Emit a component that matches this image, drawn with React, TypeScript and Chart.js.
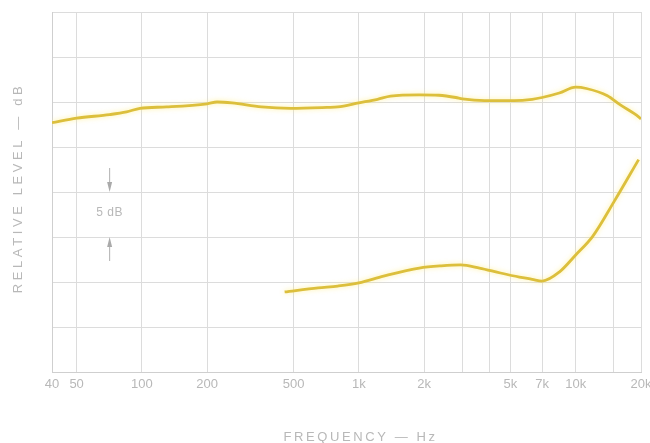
import React, { useEffect, useRef } from "react";
import { Chart, registerables } from "chart.js";

Chart.register(...registerables);

// Axis range (Hz): the left edge of the paper is the "40" line
const xMin = 38.5;
const xMax = 20000;

// Frequencies (Hz) and relative levels (dB, 0 = bottom of grid)
const upperFreq = [38.5, 50, 71, 85, 98, 130, 200, 222, 260, 356, 485, 715, 800, 1000, 1220, 1400, 1900, 2340, 2800, 3000, 3800, 5200, 6300, 7000, 8400, 10000, 11200, 14000, 16000, 19500, 20000];
const upperLevel = [27.7, 28.2, 28.6, 28.9, 29.3, 29.45, 29.8, 30.0, 29.9, 29.45, 29.3, 29.4, 29.45, 29.9, 30.3, 30.65, 30.8, 30.75, 30.5, 30.35, 30.15, 30.15, 30.3, 30.5, 31.0, 31.65, 31.5, 30.7, 29.7, 28.35, 28.1];

const lowerFreq = [455, 650, 800, 1000, 1300, 1900, 2400, 2950, 3600, 4500, 5500, 6300, 7000, 8400, 10000, 12000, 15000, 19500];
const lowerLevel = [8.9, 9.35, 9.55, 9.9, 10.65, 11.55, 11.8, 11.9, 11.55, 11.0, 10.55, 10.3, 10.1, 11.1, 13.0, 15.1, 18.9, 23.6];

const tickValues = [xMin, 50, 100, 200, 500, 1000, 2000, 3000, 4000, 5000, 7000, 10000, 15000, 20000];
const tickLabels = ["40", "50", "100", "200", "500", "1k", "2k", "", "", "5k", "7k", "10k", "", "20k"];

const yMin = 0;
const yMax = 40;
const yStep = 5;

// "5 dB" scale marker: anchored at this frequency between these two levels
const markerFreq = 71;
const markerTop = 20;
const markerBottom = 15;
const markerText = "5 dB";

const xTitle = "FREQUENCY — Hz";
const yTitle = "RELATIVE LEVEL — dB";

const lineColor = "#dcbf3c";
const textColor = "#b8b8b8";
const gridColor = "#dcdcdc";

export default function App() {
  const ref = useRef<HTMLCanvasElement | null>(null);

  useEffect(() => {
    document.body.style.margin = "0";
    const canvas = ref.current;
    if (!canvas) return;

    const decor = {
      id: "decor",
      beforeDatasetsDraw(chart: any) {
        const ctx = chart.ctx;
        ctx.save();
        ctx.shadowColor = "rgba(255, 235, 120, 0.7)";
        ctx.shadowBlur = 5;
      },
      afterDatasetsDraw(chart: any) {
        chart.ctx.restore();
      },
      afterDraw(chart: any) {
        const ctx = chart.ctx;
        const xs = chart.scales.x;
        const ys = chart.scales.y;
        const ca = chart.chartArea;
        ctx.save();
        ctx.fillStyle = textColor;
        ctx.strokeStyle = "#b0b0b0";
        ctx.textAlign = "center";
        ctx.textBaseline = "middle";
        (ctx as any).letterSpacing = "2.6px";
        ctx.font = "13px 'Liberation Sans', sans-serif";
        // x title
        ctx.fillText(xTitle, (ca.left + ca.right) / 2 + 14, 437);
        // y title
        (ctx as any).letterSpacing = "3.6px";
        ctx.save();
        ctx.translate(18, (ca.top + ca.bottom) / 2 - 4);
        ctx.rotate(-Math.PI / 2);
        ctx.fillText(yTitle, 0, 0);
        ctx.restore();

        // 5 dB marker
        (ctx as any).letterSpacing = "0.5px";
        ctx.font = "12px 'Liberation Sans', sans-serif";
        const mx = xs.getPixelForValue(markerFreq);
        const yT = ys.getPixelForValue(markerTop);
        const yB = ys.getPixelForValue(markerBottom);
        ctx.fillText(markerText, mx, (yT + yB) / 2 - 2);
        ctx.lineWidth = 1;
        // top arrow pointing down
        ctx.beginPath();
        ctx.moveTo(mx, yT - 24);
        ctx.lineTo(mx, yT - 8);
        ctx.stroke();
        ctx.beginPath();
        ctx.moveTo(mx - 2.5, yT - 10);
        ctx.lineTo(mx + 2.5, yT - 10);
        ctx.lineTo(mx, yT);
        ctx.closePath();
        ctx.fillStyle = "#aaaaaa";
        ctx.fill();
        // bottom arrow pointing up
        ctx.beginPath();
        ctx.moveTo(mx, yB + 8);
        ctx.lineTo(mx, yB + 24);
        ctx.stroke();
        ctx.beginPath();
        ctx.moveTo(mx - 2.5, yB + 10);
        ctx.lineTo(mx + 2.5, yB + 10);
        ctx.lineTo(mx, yB);
        ctx.closePath();
        ctx.fill();
        ctx.restore();
      },
    };

    const chart = new Chart(canvas, {
      type: "line",
      data: {
        datasets: [
          {
            label: "Upper",
            data: upperFreq.map((f, i) => ({ x: f, y: upperLevel[i] })),
            borderColor: lineColor,
            borderWidth: 2.8,
            pointRadius: 0,
            cubicInterpolationMode: "monotone",
            fill: false,
          },
          {
            label: "Lower",
            data: lowerFreq.map((f, i) => ({ x: f, y: lowerLevel[i] })),
            borderColor: lineColor,
            borderWidth: 2.8,
            pointRadius: 0,
            cubicInterpolationMode: "monotone",
            fill: false,
          },
        ],
      },
      options: {
        animation: false,
        responsive: true,
        maintainAspectRatio: false,
        layout: { padding: { top: 12, right: 9, left: 0, bottom: 0 } },
        plugins: { legend: { display: false }, tooltip: { enabled: false } },
        scales: {
          x: {
            type: "logarithmic",
            min: xMin,
            max: xMax,
            afterBuildTicks: (scale: any) => {
              scale.ticks = tickValues.map((v) => ({ value: v }));
            },
            afterFit: (scale: any) => {
              scale.height = 71;
              scale.paddingLeft = 0;
              scale.paddingRight = 0;
            },
            ticks: {
              autoSkip: false,
              maxRotation: 0,
              padding: 5,
              color: textColor,
              font: { family: "'Liberation Sans', sans-serif", size: 13 },
              callback: (_v: any, i: number) => tickLabels[i] ?? "",
            },
            grid: { color: gridColor, drawTicks: false, lineWidth: 1 },
            border: { color: "#cfcfcf" },
          },
          y: {
            type: "linear",
            min: yMin,
            max: yMax,
            ticks: { stepSize: yStep, display: false },
            afterFit: (scale: any) => {
              scale.width = 52;
            },
            grid: { color: gridColor, drawTicks: false, lineWidth: 1 },
            border: { color: "#cfcfcf" },
          },
        },
      },
      plugins: [decor],
    });

    return () => chart.destroy();
  }, []);

  return (
    <div style={{ width: 650, height: 443, position: "relative", background: "#fff" }}>
      <canvas ref={ref} />
    </div>
  );
}
